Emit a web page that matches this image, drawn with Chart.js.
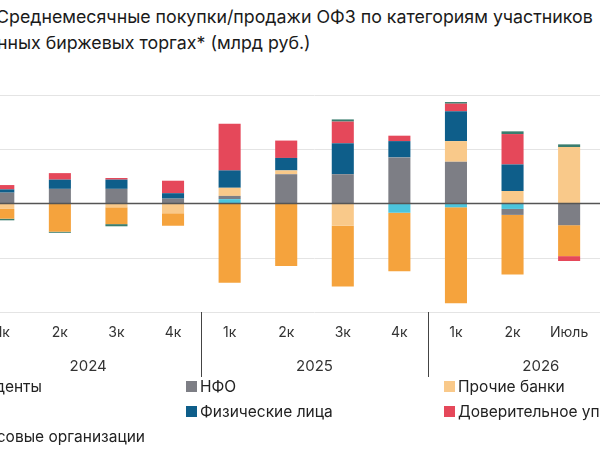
<!DOCTYPE html>
<html><head><meta charset="utf-8">
<script src="https://cdn.jsdelivr.net/npm/chart.js@4"></script>
<style>
html,body{margin:0;padding:0;width:600px;height:450px;overflow:hidden;background:#fff;font-family:Inter,"Noto Sans",sans-serif;color:#222;position:relative}
.t{position:absolute;white-space:nowrap;font-size:17.8px;color:#1a1a1a}
#wrap{position:absolute;left:-25px;top:0;width:679px;height:450px}
.lg{position:absolute;white-space:nowrap;font-size:15.5px;color:#222;display:flex;align-items:center;height:20px}
.lg i{display:inline-block;width:11px;height:11px;margin-right:3px}
.r{position:absolute;white-space:nowrap;font-size:15.5px;height:20px;display:flex;align-items:center}
</style></head><body>
<div class="t" style="left:-4px;top:6px">Среднемесячные покупки/продажи ОФЗ по категориям участников</div>
<div class="t" style="left:-3px;top:32px">нных биржевых торгах* (млрд руб.)</div>
<div id="wrap"><canvas id="c" width="679" height="450"></canvas></div>
<div class="r" style="top:376px;right:558px"><i style="display:inline-block;width:11px;height:11px;background:#3A7D6E;margin-right:3px"></i>Нерезиденты</div>
<div class="r" style="top:401px;right:600px"><i style="display:inline-block;width:11px;height:11px;background:#F5A33D;margin-right:3px"></i>СЗКО</div>
<div class="r" style="top:426px;right:455px"><i style="display:inline-block;width:11px;height:11px;background:#4CC4DC;margin-right:3px"></i>Прочие финансовые организации</div>
<div class="lg" style="left:186px;top:376px"><i style="background:#7D7E85"></i>НФО</div>
<div class="lg" style="left:186px;top:401px"><i style="background:#0E5E8A"></i>Физические лица</div>
<div class="lg" style="left:444px;top:376px"><i style="background:#F9C98A"></i>Прочие банки</div>
<div class="lg" style="left:444px;top:401px"><i style="background:#E5485A"></i>Доверительное управление</div>
<script>
const categories=["1к","2к","3к","4к","1к","2к","3к","4к","1к","2к","Июль",""];
const years=["2024","2025","2026"];
const yearGroups=[[0,3],[4,7],[8,11]];
const pfo   =[0,0,0,0,8,0,0,-17,-7,-10,0,null];
const nfo   =[20,27,27,9,6,54,54,85,77,-11,-40,null];
const banks =[-10,0,-7,-18,15,7,-41,0,38,23,104,null];
const phys  =[6,17,17,10,32,23,57,30,55,49,0,null];
const szko  =[-18,-52,-31,-23,-146,-115,-112,-108,-177,-110,-57,null];
const trust =[8,12,3,23,86,32,40,10,14,56,-9,null];
const nonres=[-3,-2,-4,0,0,0,4,0,3,5,5,null];
const gridVals=[200,100,-100,-200];

const deco={id:'deco',
 beforeDatasetsDraw(ch){const {ctx,scales:{y}}=ch;ctx.save();
  ctx.strokeStyle='#e4e4e4';ctx.lineWidth=1;
  gridVals.forEach(v=>{const p=Math.round(y.getPixelForValue(v))+0.5;ctx.beginPath();ctx.moveTo(0,p);ctx.lineTo(ch.width,p);ctx.stroke();});
  ctx.restore();},
 afterDatasetsDraw(ch){const {ctx,scales:{x,y}}=ch;ctx.save();
  const z=y.getPixelForValue(0);ctx.strokeStyle='#555';ctx.lineWidth=1.5;ctx.beginPath();ctx.moveTo(0,z);ctx.lineTo(ch.width,z);ctx.stroke();
  const yb=y.getPixelForValue(-200);
  ctx.fillStyle='#333';ctx.font='14px Inter, "Noto Sans", sans-serif';ctx.textAlign='center';ctx.textBaseline='middle';
  categories.forEach((c,i)=>ctx.fillText(c,x.getPixelForValue(i),yb+21));
  ctx.font='15px Inter, "Noto Sans", sans-serif';
  yearGroups.forEach((g,k)=>{ctx.fillText(years[k],(x.getPixelForValue(g[0])+x.getPixelForValue(g[1]))/2,yb+54);
   if(k>0){const sx=Math.round((x.getPixelForValue(g[0]-1)+x.getPixelForValue(g[0]))/2)+0.5;ctx.strokeStyle='#444';ctx.lineWidth=1;ctx.beginPath();ctx.moveTo(sx,yb);ctx.lineTo(sx,yb+54+11);ctx.stroke();}});
  ctx.restore();}};

const mk=(label,data,color)=>({label,data,backgroundColor:color,stack:'s',barPercentage:0.39,categoryPercentage:1});
new Chart(document.getElementById('c'),{type:'bar',
 data:{labels:categories,datasets:[
  mk('Прочие финансовые организации',pfo,'#4CC4DC'),
  mk('НФО',nfo,'#7D7E85'),
  mk('Прочие банки',banks,'#F9C98A'),
  mk('Физические лица',phys,'#0E5E8A'),
  mk('СЗКО',szko,'#F5A33D'),
  mk('Доверительное управление',trust,'#E5485A'),
  mk('Нерезиденты',nonres,'#3A7D6E')]},
 options:{responsive:false,animation:false,layout:{padding:{top:95,bottom:138,left:0,right:0}},
  plugins:{legend:{display:false},tooltip:{enabled:false}},
  scales:{x:{display:false,stacked:true,offset:true},y:{display:false,stacked:true,min:-200,max:200}}},
 plugins:[deco]});
</script></body></html>
